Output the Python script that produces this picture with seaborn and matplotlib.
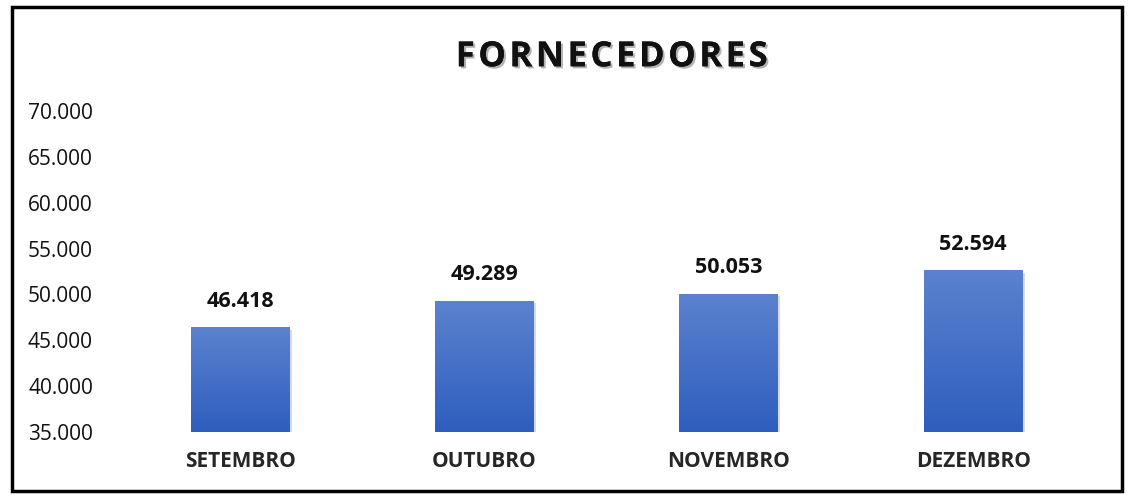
import numpy as np
import pandas as pd
import matplotlib
matplotlib.use('Agg')
import matplotlib.pyplot as plt
import matplotlib.patheffects as pe
from matplotlib.patches import Rectangle
from matplotlib.ticker import FuncFormatter
import seaborn as sns

# dados
meses = ['SETEMBRO', 'OUTUBRO', 'NOVEMBRO', 'DEZEMBRO']
valores = [46418, 49289, 50053, 52594]
titulo = 'FORNECEDORES'

df = pd.DataFrame({'mes': meses, 'valor': valores})

sns.set_theme(style='white')
plt.rcParams['font.family'] = ['Open Sans', 'DejaVu Sans']

fig = plt.figure(figsize=(11.28, 4.94), dpi=100)
ax = fig.add_axes([0.1046, 0.1255, 0.8665, 0.6495])

Y0, Y1 = 35000, 70000

sns.barplot(data=df, x='mes', y='valor', color='#4472C4', width=0.405, ax=ax,
            saturation=1, zorder=2)

ax.set_ylim(Y0, Y1)
ax.set_xlim(-0.5, 3.5)
ax.set_yticks(np.arange(Y0, Y1 + 1, 5000))
ax.yaxis.set_major_formatter(FuncFormatter(lambda v, p: f'{int(v):,}'.replace(',', '.')))
ax.tick_params(axis='y', labelsize=15, length=0, pad=18, labelcolor='#111111')
ax.tick_params(axis='x', labelsize=15, length=0, pad=14)
for lb in ax.get_xticklabels():
    lb.set_fontweight('bold')
ax.set_xlabel('')
ax.set_ylabel('')
sns.despine(ax=ax, left=True, bottom=True, top=True, right=True)
ax.set_facecolor('none')

# gradiente nas barras + sombra
grad = np.linspace(0, 1, 256).reshape(-1, 1)
cmap = matplotlib.colors.LinearSegmentedColormap.from_list('g', ['#2E5EBE', '#5B82CF'])
for p in list(ax.patches):
    x0, w = p.get_x(), p.get_width()
    topo = p.get_y() + p.get_height()
    p.set_visible(False)
    sh = Rectangle((x0 + 0.008, Y0), w, topo - Y0 - 250, facecolor='#000000', alpha=0.15,
                   edgecolor='none', zorder=1)
    ax.add_patch(sh)
    ax.imshow(grad, extent=(x0, x0 + w, Y0, topo), origin='lower',
              cmap=cmap, aspect='auto', zorder=3)
    ax.text(x0 + w / 2, topo + 1700, f'{int(topo):,}'.replace(',', '.'),
            ha='center', va='bottom', fontsize=15.5, fontweight='bold', color='#111111')

ax.set_xlim(-0.5, 3.5)
ax.set_ylim(Y0, Y1)
ax.set_aspect('auto')

# titulo (com espaçamento entre letras)
fig.text(0.5425, 0.884, '\u200a'.join(titulo), ha='center', va='center', fontsize=25,
         fontweight='bold', color='#111111', family=['Open Sans', 'DejaVu Sans'],
         path_effects=[pe.withSimplePatchShadow(offset=(1.5, -1.5), alpha=0.3), pe.Normal()])

# moldura
fig.patches.append(Rectangle((0.0105, 0.006), 0.984, 0.980, transform=fig.transFigure,
                             fill=False, edgecolor='black', linewidth=2.5))

fig.savefig('out.png', dpi=100, facecolor='white')
